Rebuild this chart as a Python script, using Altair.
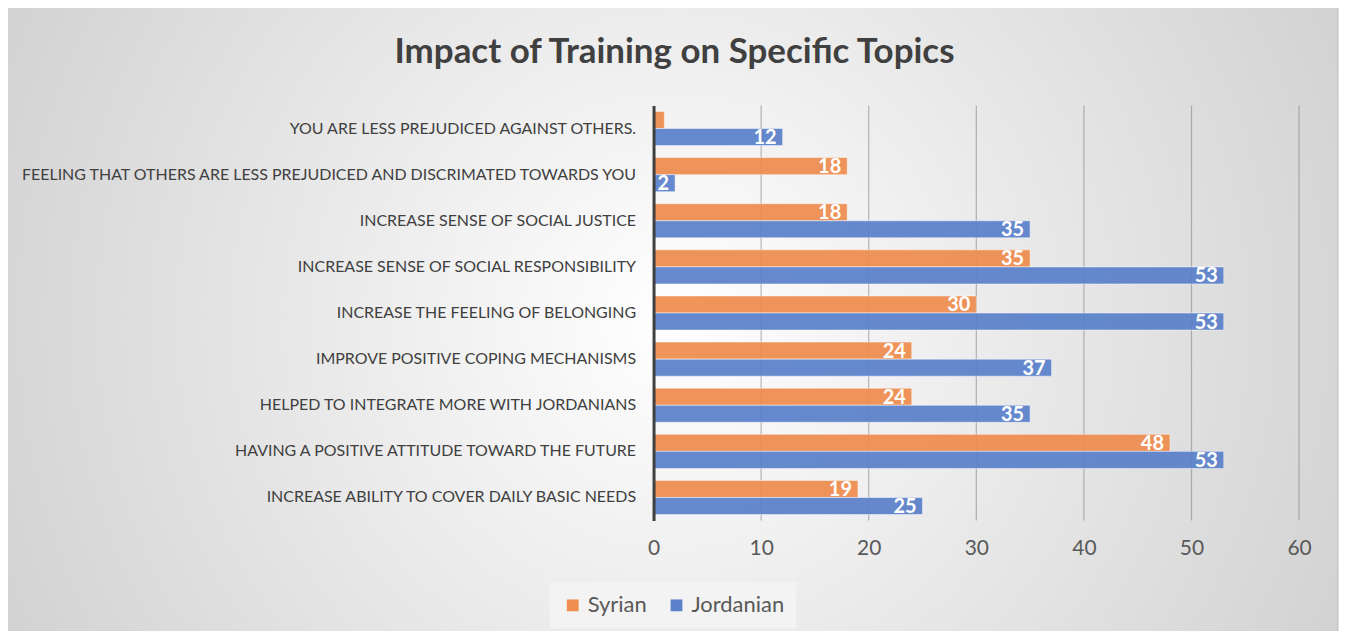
import altair as alt
import pandas as pd

categories = [
    "YOU ARE LESS PREJUDICED AGAINST OTHERS.",
    "FEELING THAT OTHERS ARE LESS PREJUDICED AND DISCRIMATED TOWARDS YOU",
    "INCREASE SENSE OF SOCIAL JUSTICE ",
    "INCREASE SENSE OF SOCIAL RESPONSIBILITY",
    "INCREASE THE FEELING OF BELONGING",
    "IMPROVE POSITIVE COPING MECHANISMS",
    "HELPED TO INTEGRATE MORE WITH JORDANIANS",
    "HAVING A POSITIVE ATTITUDE TOWARD THE FUTURE",
    "INCREASE ABILITY TO COVER DAILY BASIC NEEDS",
]
syrian = [1, 18, 18, 35, 30, 24, 24, 48, 19]
jordanian = [12, 2, 35, 53, 53, 37, 35, 53, 25]
series = ["Syrian", "Jordanian"]
colors = ["#ee8d4f", "#5b81cb"]
grid_ticks = [10, 20, 30, 40, 50, 60]
axis_ticks = [0, 10, 20, 30, 40, 50, 60]
title_text = ["Impact of Training on Specific Topics"]

rows = []
for c, s, j in zip(categories, syrian, jordanian):
    rows.append({"topic": c, "group": "Syrian", "value": s, "label": str(s) if s > 1 else ""})
    rows.append({"topic": c, "group": "Jordanian", "value": j, "label": str(j) if j > 1 else ""})
df = pd.DataFrame(rows)

FONT = "Lato"

bg = alt.Chart(pd.DataFrame({"a": [0]})).mark_rect(
    fill={
        "gradient": "radial",
        "x1": 0.5, "y1": 0.5, "r1": 0,
        "x2": 0.5, "y2": 0.5, "r2": 0.75,
        "stops": [
            {"offset": 0, "color": "#ffffff"},
            {"offset": 1, "color": "#c2c2c2"},
        ],
    },
    stroke="#bfbfbf",
    strokeWidth=1,
).encode(
    x=alt.value(-648), x2=alt.value(686), y=alt.value(-100), y2=alt.value(532)
)

title = alt.Chart(pd.DataFrame({"t": title_text})).mark_text(
    align="center", baseline="alphabetic",
    font=FONT, fontSize=35, fontWeight="bold", color="#404040",
).encode(x=alt.value(21), y=alt.value(-43), text="t:N")

grid = alt.Chart(pd.DataFrame({"t": grid_ticks})).mark_rule(
    color="#7f7f7f", opacity=0.55, strokeWidth=1.2
).encode(
    x=alt.X("t:Q", scale=alt.Scale(domain=[0, 60])),
    y=alt.value(0), y2=alt.value(416),
)

x_enc = alt.X(
    "value:Q",
    scale=alt.Scale(domain=[0, 60], nice=False),
    axis=alt.Axis(
        values=axis_ticks, title=None, grid=False, ticks=False, domain=False,
        labelFont=FONT, labelFontSize=21, labelColor="#595959", labelPadding=17,
        labelFlush=False, labelOverlap=False, zindex=2,
    ),
)
y_enc = alt.Y(
    "topic:N",
    sort=categories,
    scale=alt.Scale(paddingInner=0.26, paddingOuter=0.13),
    axis=alt.Axis(
        title=None, ticks=False, domainColor="#404040", domainWidth=3,
        labelFont=FONT, labelFontSize=16, labelColor="#404040", labelPadding=18,
        labelLimit=800, zindex=2,
    ),
)

bars = alt.Chart(df).mark_bar(
    opacity=0.93, stroke="white", strokeWidth=1, strokeOpacity=0.5
).encode(
    x=x_enc,
    y=y_enc,
    yOffset=alt.YOffset("group:N", sort=series, scale=alt.Scale(paddingInner=0, paddingOuter=0)),
    color=alt.Color(
        "group:N",
        sort=series,
        scale=alt.Scale(domain=series, range=colors),
        legend=alt.Legend(
            title=None, orient="none", direction="horizontal",
            legendX=-104, legendY=478,
            symbolType="square", symbolSize=140, symbolStrokeWidth=0, symbolOpacity=1,
            labelFont=FONT, labelFontSize=22, labelColor="#595959",
            fillColor="#f3f3f3", padding=12, columnPadding=18,
        ),
    ),
)

labels = alt.Chart(df).mark_text(
    align="right", baseline="middle", dx=-6, dy=1,
    font=FONT, fontSize=20, fontWeight="bold", color="white",
).encode(
    x=alt.X("value:Q", scale=alt.Scale(domain=[0, 60], nice=False)),
    y=alt.Y("topic:N", sort=categories),
    yOffset=alt.YOffset("group:N", sort=series),
    text="label:N",
)

chart = alt.layer(bg, title, grid, bars, labels).properties(
    width=647,
    height=416,
    padding={"left": 647, "top": 97, "right": 40, "bottom": 110},
    autosize=alt.AutoSizeParams(type="none"),
).configure_view(stroke=None).configure(background="white")

chart.save("out.html", embed_options={"renderer": "svg", "actions": False})
